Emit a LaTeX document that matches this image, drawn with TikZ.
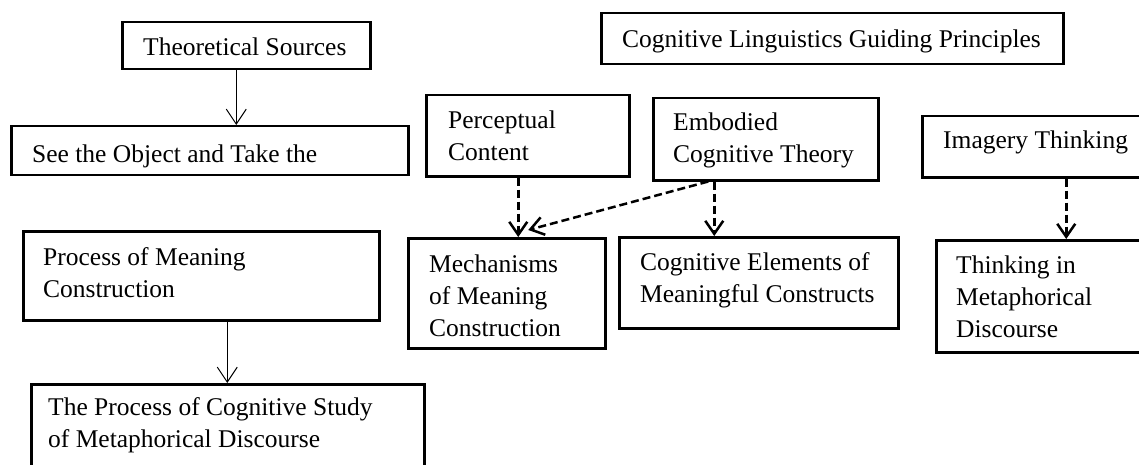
\documentclass[tikz,border=0pt]{standalone}
\usepackage{fontspec}
\setmainfont{Liberation Serif}
\usetikzlibrary{arrows.meta}
\begin{document}
\begin{tikzpicture}[x=1pt,y=-1pt,
  box/.style={draw, line width=2.5pt, inner sep=0pt, anchor=north west},
  txt/.style={font=\fontsize{25.5}{32}\selectfont, align=left, inner sep=0pt, anchor=north west},
  solidarrow/.style={line width=1pt, -{Straight Barb[length=15pt,width=20pt]}},
  dasharrow/.style={line width=2.5pt, dash pattern=on 8pt off 4pt, -{Straight Barb[length=13pt,width=18pt]}}]
\useasboundingbox (0,0) rectangle (1139,465);
% boxes
\node[box, minimum width=248pt, minimum height=47pt]  (src)   at (121,21)  {};
\node[box, minimum width=397pt, minimum height=49pt]  (see)   at (10,125)  {};
\node[box, minimum width=356pt, minimum height=89pt]  (proc)  at (22,230)  {};
\node[box, minimum width=393pt, minimum height=100pt] (study) at (30,383)  {};
\node[box, minimum width=462pt, minimum height=51pt]  (cgl)   at (600,12)  {};
\node[box, minimum width=203pt, minimum height=81pt]  (perc)  at (425,94)  {};
\node[box, minimum width=225pt, minimum height=82pt]  (emb)   at (652,97)  {};
\node[box, minimum width=230pt, minimum height=61pt]  (img)   at (921,115) {};
\node[box, minimum width=197pt, minimum height=110pt] (mech)  at (407,237) {};
\node[box, minimum width=279pt, minimum height=91pt]  (cogel) at (618,236) {};
\node[box, minimum width=215pt, minimum height=112pt] (think) at (935,239) {};
% texts
\node[txt] (tsrc)   at (143,32.6)  {\strut Theoretical Sources};
\node[txt] (tsee)   at (32,139.6)  {\strut See the Object and Take the};
\node[txt] (tproc)  at (43,242.6)  {\strut Process of Meaning\\Construction};
\node[txt] (tstudy) at (48,392.6)  {\strut The Process of Cognitive Study\\of Metaphorical Discourse};
\node[txt] (tcgl)   at (622,24.6)  {\strut Cognitive Linguistics Guiding Principles};
\node[txt] (tperc)  at (448,105.6) {\strut Perceptual\\Content};
\node[txt] (temb)   at (673,107.6) {\strut Embodied\\Cognitive Theory};
\node[txt] (timg)   at (943,125.6) {\strut Imagery Thinking};
\node[txt] (tmech)  at (429,249.6) {\strut Mechanisms\\of Meaning\\Construction};
\node[txt] (tcogel) at (640,247.6) {\strut Cognitive Elements of\\Meaningful Constructs};
\node[txt] (tthink) at (956,250.6) {\strut Thinking in\\Metaphorical\\Discourse};
% connectors
\draw[solidarrow] ([xshift=-10pt]src.south) -- ([xshift=-10pt]src.south |- see.north);
\draw[solidarrow] ([xshift=26pt]proc.south) -- ([xshift=26pt]proc.south |- study.north);
\draw[dasharrow] ([xshift=-9.5pt]perc.south) -- ([xshift=-9.5pt]perc.south |- mech.north);
\draw[dasharrow] ([xshift=-57.5pt]emb.south) -- ([xshift=21.5pt,yshift=7pt]mech.north);
\draw[dasharrow] ([xshift=-51.5pt]emb.south) -- ([xshift=-51.5pt]emb.south |- cogel.north);
\draw[dasharrow] ([xshift=29pt]img.south) -- ([xshift=29pt]img.south |- think.north);
\end{tikzpicture}
\end{document}
